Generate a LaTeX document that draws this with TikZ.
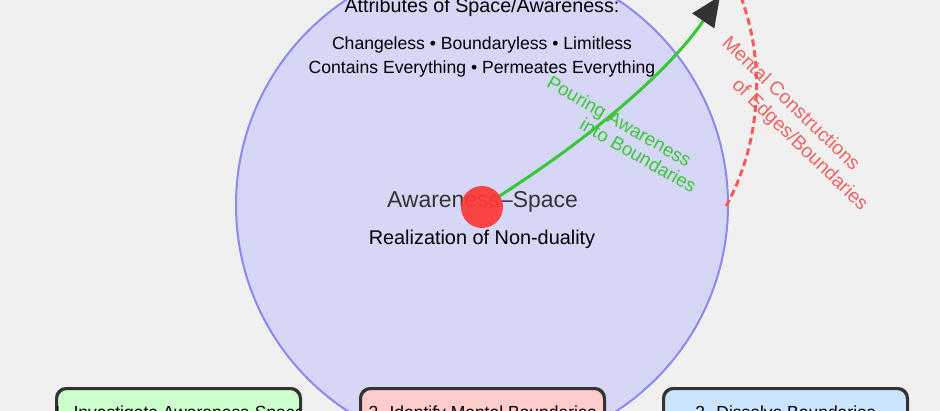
\documentclass[tikz,border=0pt]{standalone}
\usepackage{fontspec}
\setmainfont{Liberation Sans}
\usetikzlibrary{arrows.meta}
\definecolor{bg}{RGB}{240,240,240}
\definecolor{circfill}{RGB}{214,214,246}
\definecolor{circline}{RGB}{138,138,240}
\definecolor{dotred}{RGB}{255,56,56}
\definecolor{grn}{RGB}{55,200,55}
\definecolor{redd}{RGB}{250,90,90}
\definecolor{redlab}{RGB}{240,100,100}
\definecolor{dark}{RGB}{51,51,51}
\definecolor{boxg}{RGB}{204,255,204}
\definecolor{boxr}{RGB}{255,204,204}
\definecolor{boxb}{RGB}{204,229,255}
\begin{document}
\begin{tikzpicture}[x=0.75pt,y=-0.75pt,
  stepbox/.style={draw=dark, line width=1.5pt, rounded corners=7.5pt,
    minimum width=182.25pt, minimum height=45pt, inner sep=0pt},
  boxtext/.style={anchor=base, font=\fontsize{13.1}{15}\selectfont, text=black, inner sep=0pt},
  attrtext/.style={anchor=base, font=\fontsize{13.2}{16}\selectfont, text=black, inner sep=0pt},
  greenlab/.style={anchor=base, rotate=-30, text=grn, font=\fontsize{14.1}{17}\selectfont, inner sep=0pt},
  redlabel/.style={anchor=base, rotate=-44, text=redlab, font=\fontsize{14.6}{17}\selectfont, inner sep=0pt}
]
\useasboundingbox (0,0) rectangle (940,411);
\clip (0,0) rectangle (940,411);
\fill[bg] (0,0) rectangle (940,411);

% big circle
\node[circle, draw=circline, fill=circfill, line width=1.5pt, minimum size=369pt, inner sep=0pt] (space) at (482,205) {};

% attribute texts
\node[anchor=base, font=\fontsize{14.8}{17}\selectfont, inner sep=0pt] (attr) at (482,12) {Attributes of Space/Awareness:};
\node[attrtext] (attr1) at (482,49) {Changeless • Boundaryless • Limitless};
\node[attrtext] (attr2) at (482,73) {Contains Everything • Permeates Everything};

% centre texts
\node[anchor=base, font=\fontsize{17.2}{20}\selectfont, text=dark, inner sep=0pt] (title) at (482.5,207) {Awareness–Space};
\node[anchor=base, font=\fontsize{14.9}{18}\selectfont, text=black, inner sep=0pt] (real) at (482,244) {Realization of Non-duality};

% green arrow
\coordinate (centre) at (482,207);
\coordinate (tip) at (720,-4);
\draw[grn, line width=2.25pt, -{Triangle[length=22.5pt,width=19.5pt,color=dark]}]
  (centre) .. controls (590,140) and (670,70) .. (tip);

% red dot
\node[circle, fill=dotred, fill opacity=0.92, minimum size=31.5pt, inner sep=0pt] (dot) at (centre) {};

% red dashed boundary
\coordinate (rtop) at (741,-3);
\coordinate (rbot) at (725,208);
\draw[redd, line width=2.25pt, dash pattern=on 5.25pt off 3pt]
  (rtop) .. controls (768,70) and (758,150) .. (rbot);

% labels
\node[greenlab] (pour1) at (616,127) {Pouring Awareness};
\node[greenlab] (pour2) at (635,161) {into Boundaries};
\node[redlabel] (ment1) at (787,108) {Mental Constructions};
\node[redlabel] (ment2) at (796,149) {of Edges/Boundaries};

% bottom boxes
\node[stepbox, fill=boxg] (b1) at (178.5,419) {};
\node[stepbox, fill=boxr] (b2) at (482.5,419) {};
\node[stepbox, fill=boxb] (b3) at (785.5,419) {};
\begin{scope}
  \clip (b1.north west) rectangle (b1.south east);
  \node[boxtext] (t1) at (178.5,418.5) {1. Investigate Awareness-Space};
\end{scope}
\begin{scope}
  \clip (b2.north west) rectangle (b2.south east);
  \node[boxtext] (t2) at (482.5,418.5) {2. Identify Mental Boundaries};
\end{scope}
\begin{scope}
  \clip (b3.north west) rectangle (b3.south east);
  \node[boxtext] (t3) at (785.5,418.5) {3. Dissolve Boundaries};
\end{scope}
\draw[draw=dark, line width=1.5pt, rounded corners=7.5pt] (b1.south west) rectangle (b1.north east);
\draw[draw=dark, line width=1.5pt, rounded corners=7.5pt] (b2.south west) rectangle (b2.north east);
\draw[draw=dark, line width=1.5pt, rounded corners=7.5pt] (b3.south west) rectangle (b3.north east);
\end{tikzpicture}
\end{document}
